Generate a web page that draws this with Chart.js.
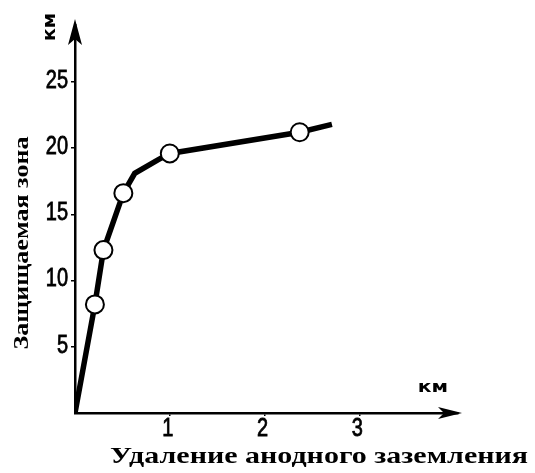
<!DOCTYPE html>
<html>
<head>
<meta charset="utf-8">
<script src="https://cdn.jsdelivr.net/npm/chart.js@4/dist/chart.umd.min.js"></script>
<style>
  html, body { margin: 0; padding: 0; background: #fff; }
  #wrap { width: 535px; height: 473px; }
</style>
</head>
<body>
<div id="wrap"><canvas id="chart"></canvas></div>
<script>
// данные кривой (км)
const curveX = [0, 0.21, 0.30, 0.51, 0.63, 0.87, 1.0, 2.37, 2.71];
const curveY = [0, 8.2, 12.3, 16.6, 18.1, 19.1, 19.6, 21.2, 21.8];
// точки-кружки
const markerX = [0.21, 0.30, 0.51, 1.0, 2.37];
const markerY = [8.2, 12.3, 16.6, 19.6, 21.2];
// подписи осей
const xTicks = [1, 2, 3];
const yTicks = [5, 10, 15, 20, 25];
const xTitle = 'Удаление анодного заземления';
const yTitle = 'Защищаемая зона';
const unitLabel = 'км';

// текст, сжатый по ширине (с лёгкой обводкой для "жирности")
function squeezed(ctx, text, x, y, sx, rot, stroke) {
  ctx.save();
  ctx.translate(x, y);
  if (rot) ctx.rotate(rot);
  ctx.scale(sx, 1);
  ctx.fillText(text, 0, 0);
  if (stroke) {
    ctx.lineWidth = stroke;
    ctx.strokeText(text, 0, 0);
  }
  ctx.restore();
}

// стрелки, подписи делений, подписи осей и единицы
const axisDecor = {
  id: 'axisDecor',
  afterDraw(chart) {
    const ctx = chart.ctx;
    const a = chart.chartArea;
    const xs = chart.scales.x, ys = chart.scales.y;
    const x0 = a.left, y0 = a.bottom;
    ctx.save();
    ctx.fillStyle = '#000';
    ctx.strokeStyle = '#000';

    // стрелка оси Y
    ctx.beginPath();
    ctx.moveTo(x0, a.top - 6);
    ctx.lineTo(x0 + 7, a.top + 20);
    ctx.lineTo(x0, a.top + 14);
    ctx.lineTo(x0 - 7, a.top + 20);
    ctx.closePath();
    ctx.fill();

    // стрелка оси X
    ctx.beginPath();
    ctx.moveTo(a.right + 4, y0);
    ctx.lineTo(a.right - 20, y0 - 6);
    ctx.lineTo(a.right - 14, y0);
    ctx.lineTo(a.right - 20, y0 + 6);
    ctx.closePath();
    ctx.fill();

    // подписи делений
    ctx.font = '25px "Liberation Sans", Arial, sans-serif';
    ctx.textBaseline = 'middle';
    ctx.textAlign = 'right';
    yTicks.forEach(v => squeezed(ctx, String(v), x0 - 7, ys.getPixelForValue(v) - 1, 0.8, 0, 0.8));
    ctx.textAlign = 'center';
    xTicks.forEach(v => squeezed(ctx, String(v), xs.getPixelForValue(v) - 2, y0 + 16, 0.8, 0, 0.8));

    // единицы "км"
    ctx.font = 'bold 15px "DejaVu Sans", sans-serif';
    ctx.textAlign = 'center';
    squeezed(ctx, unitLabel, a.right - 25, y0 - 25, 1.35);
    ctx.font = 'bold 17px "DejaVu Sans", sans-serif';
    squeezed(ctx, unitLabel, x0 - 24, a.top + 2, 1.1, -Math.PI / 2);

    // подпись оси X
    ctx.font = 'bold 24px "Liberation Serif", "DejaVu Serif", serif';
    let w = ctx.measureText(xTitle).width;
    squeezed(ctx, xTitle, 319, 457, 418 / w);

    // подпись оси Y
    ctx.font = 'bold 22px "Liberation Serif", "DejaVu Serif", serif';
    w = ctx.measureText(yTitle).width;
    squeezed(ctx, yTitle, 22, 243, 213 / w, -Math.PI / 2);

    ctx.restore();
  }
};

new Chart(document.getElementById('chart'), {
  type: 'line',
  data: {
    datasets: [
      {
        data: markerX.map((x, i) => ({ x: x, y: markerY[i] })),
        showLine: false,
        pointRadius: 9,
        pointBorderWidth: 2,
        pointBackgroundColor: '#fff',
        pointBorderColor: '#000',
        order: 0
      },
      {
        data: curveX.map((x, i) => ({ x: x, y: curveY[i] })),
        borderColor: '#000',
        borderWidth: 5.5,
        pointRadius: 0,
        tension: 0,
        order: 1
      }
    ]
  },
  options: {
    responsive: true,
    maintainAspectRatio: false,
    animation: false,
    layout: { padding: { left: 0, top: 25, right: 77, bottom: 0 } },
    plugins: { legend: { display: false }, tooltip: { enabled: false } },
    scales: {
      x: {
        type: 'linear',
        min: 0,
        max: 4.04,
        afterBuildTicks: s => { s.ticks = xTicks.map(v => ({ value: v })); },
        afterFit: s => { s.height = 60; },
        border: { color: '#000', width: 2.5 },
        grid: { drawOnChartArea: false, drawTicks: true, tickLength: 3, color: '#000', lineWidth: 1.5 },
        ticks: { display: false }
      },
      y: {
        type: 'linear',
        min: 0,
        max: 29.3,
        afterBuildTicks: s => { s.ticks = yTicks.map(v => ({ value: v })); },
        afterFit: s => { s.width = 75; },
        border: { color: '#000', width: 2.5 },
        grid: { drawOnChartArea: false, drawTicks: true, tickLength: 4, color: '#000', lineWidth: 1.5 },
        ticks: { display: false }
      }
    }
  },
  plugins: [axisDecor]
});
</script>
</body>
</html>
